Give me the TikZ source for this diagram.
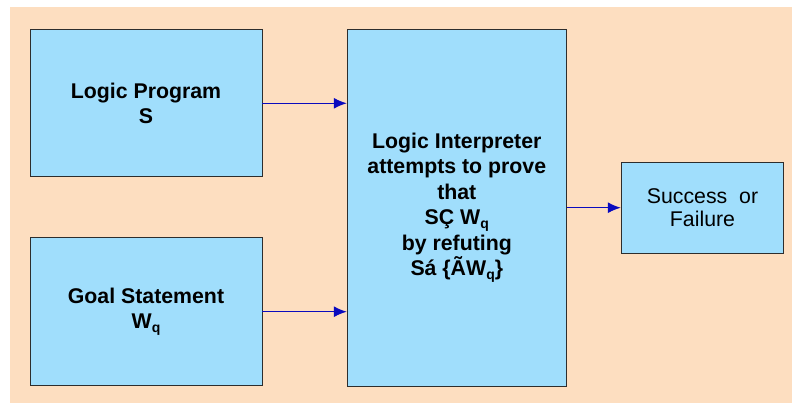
\documentclass[tikz,border=0pt]{standalone}
\usepackage{fontspec}
\setmainfont{Liberation Sans}
\usetikzlibrary{arrows.meta}
\definecolor{peach}{RGB}{253,222,192}
\definecolor{boxfill}{RGB}{160,222,252}
\definecolor{boxline}{RGB}{45,45,45}
\definecolor{flow}{RGB}{10,10,190}
\newcommand\subq{\raisebox{-4pt}{\fontsize{14}{14}\selectfont q}}
\tikzset{
  block/.style={draw=boxline, line width=0.9pt, fill=boxfill, inner sep=0pt,
    align=center, font=\fontsize{21.3}{25.5}\selectfont\bfseries},
  plainblock/.style={block, font=\fontsize{21.3}{23}\selectfont},
  flowarrow/.style={draw=flow, line width=1.5pt, -{Latex[length=13pt,width=11pt]}}
}
\begin{document}
\begin{tikzpicture}[x=1pt,y=-1pt]
  % page and panel background
  \fill[white] (0,0) rectangle (792,403);
  \fill[peach] (10,7) rectangle (792,403);
  \useasboundingbox (0,0) rectangle (792,403);

  \node[block, minimum width=232pt, minimum height=147pt] (prog) at (146,103.3)
    {Logic Program\\S};
  \node[block, minimum width=232pt, minimum height=148pt] (goal) at (146,311.7)
    {Goal Statement\\W\subq};
  \node[block, minimum width=219pt, minimum height=356.7pt] (interp) at (456.8,207.7)
    {Logic Interpreter\\attempts to prove\\that\\SÇ W\subq\\by refuting\\Sá \{ÃW\subq\}};
  \node[plainblock, minimum width=162.4pt, minimum height=91.3pt] (result) at (702.5,207.7)
    {Success~ or\\Failure};

  \draw[flowarrow] (prog.east) -- (prog.east -| interp.west);
  \draw[flowarrow] (goal.east) -- (goal.east -| interp.west);
  \draw[flowarrow] (interp.east) -- (result.west);
\end{tikzpicture}
\end{document}
